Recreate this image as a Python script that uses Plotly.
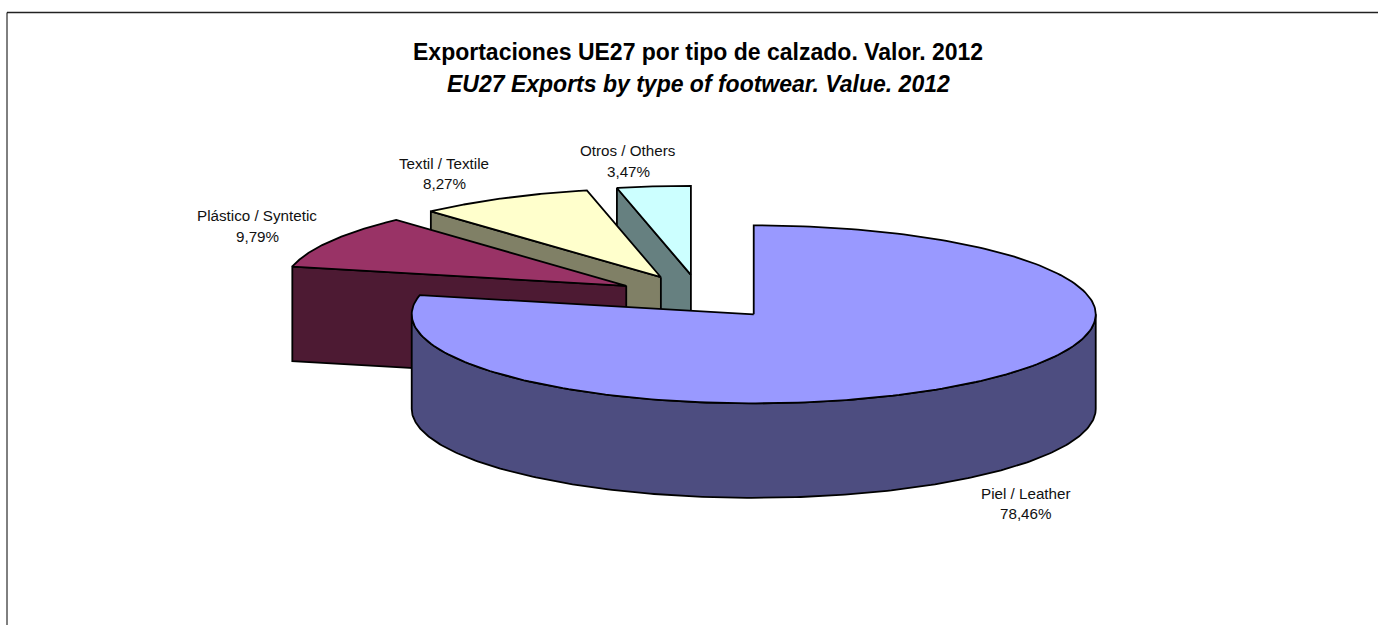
import numpy as np
import plotly.graph_objects as go

# --- data ---
categories = ["Piel / Leather", "Plástico / Syntetic", "Textil / Textile", "Otros / Others"]
shares = [78.46, 9.79, 8.27, 3.47]
share_labels = ["78,46%", "9,79%", "8,27%", "3,47%"]
title_es = "Exportaciones UE27 por tipo de calzado. Valor. 2012"
title_en = "EU27 Exports by type of footwear. Value. 2012"

# --- style ---
top_colors = ["#9999FF", "#993366", "#FFFFCC", "#CCFFFF"]
wall_colors = ["#4D4D80", "#4D1A33", "#808066", "#668080"]
FONT = "Liberation Sans"

# --- projection of the tilted pie (chart units = pixels) ---
CX, CY = 700.2, 297.0
RX, RY = 342.0, 89.0
DEPTH = 94.5
EXPLODE = 0.25
LINE_W = 1.8
label_pos = [(1025.5, 493), (257, 215.5), (444, 163), (628, 150.5)]
label_gap = 20.7
title_x = 698


def project(theta_deg, apex):
    t = np.radians(theta_deg)
    return apex[0] + RX * np.sin(t), apex[1] - RY * np.cos(t)


fig = go.Figure()


def polygon(xs, ys, color, name):
    fig.add_trace(go.Scatter(
        x=list(xs), y=list(ys), mode="lines", fill="toself", fillcolor=color,
        line=dict(color="black", width=LINE_W), name=name, hoverinfo="name",
        showlegend=False,
    ))


total = sum(shares)
edges = np.concatenate([[0], np.cumsum(shares)]) / total * 360
slices = []
for i, cat in enumerate(categories):
    a0, a1 = edges[i], edges[i + 1]
    mid = np.radians((a0 + a1) / 2)
    apex = (CX + EXPLODE * RX * np.sin(mid), CY - EXPLODE * RY * np.cos(mid))
    slices.append((i, cat, a0, a1, apex))

# painter's order: rear slices first, the large front slice last
for i, cat, a0, a1, apex in sorted(slices, key=lambda s: s[4][1]):
    th = np.linspace(a0, a1, 240)
    ax, ay = project(th, apex)
    # radial wall on the start edge (seen from the front for the rear slices)
    if i != 0:
        rx0, ry0 = project(a0, apex)
        polygon([apex[0], rx0, rx0, apex[0], apex[0]],
                [apex[1], ry0, ry0 + DEPTH, apex[1] + DEPTH, apex[1]],
                wall_colors[i], cat)
    else:
        # outer rim wall, visible on the front half of the ellipse
        th_w = np.linspace(max(a0, 90), min(a1, 270), 240)
        wx, wy = project(th_w, apex)
        polygon(np.concatenate([wx, wx[::-1], wx[:1]]),
                np.concatenate([wy, wy[::-1] + DEPTH, wy[:1]]),
                wall_colors[i], cat)
    polygon(np.concatenate([[apex[0]], ax, [apex[0]]]),
            np.concatenate([[apex[1]], ay, [apex[1]]]),
            top_colors[i], cat)

annotations = []
for cat, lab, (lx, ly) in zip(categories, share_labels, label_pos):
    for txt, yy in ((cat, ly), (lab, ly + label_gap)):
        annotations.append(dict(x=lx, y=yy, text=txt, showarrow=False, xanchor="center",
                                yanchor="middle", font=dict(family=FONT, size=15.2, color="#111111")))
annotations.append(dict(x=title_x, y=52, text=f"<b>{title_es}</b>", showarrow=False,
                        xanchor="center", yanchor="middle",
                        font=dict(family=FONT, size=23, color="black")))
annotations.append(dict(x=title_x, y=84, text=f"<b><i>{title_en}</i></b>", showarrow=False,
                        xanchor="center", yanchor="middle",
                        font=dict(family=FONT, size=23, color="black")))

fig.update_layout(
    width=1378, height=625, margin=dict(l=0, r=0, t=0, b=0),
    paper_bgcolor="white", plot_bgcolor="white", showlegend=False,
    xaxis=dict(range=[0, 1378], visible=False, fixedrange=True),
    yaxis=dict(range=[625, 0], visible=False, fixedrange=True),
    annotations=annotations,
    shapes=[
        dict(type="line", x0=7, x1=1378, y0=12.5, y1=12.5, line=dict(color="#222222", width=1.5)),
        dict(type="line", x0=7, x1=7, y0=12.5, y1=625, line=dict(color="black", width=1)),
    ],
)
fig.write_html("out.html", config={"displayModeBar": False},
               post_script="document.body.style.margin='0';document.body.style.overflow='hidden';")
